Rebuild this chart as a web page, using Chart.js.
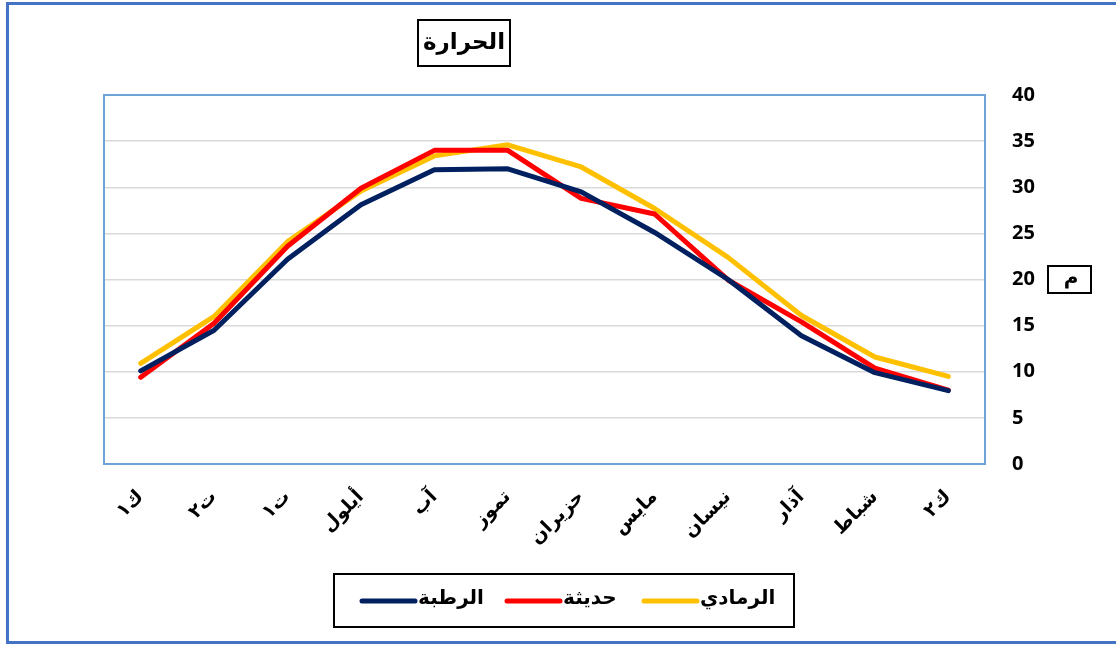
<!DOCTYPE html>
<html>
<head>
<meta charset="utf-8">
<script src="https://cdn.jsdelivr.net/npm/chart.js@4.4.1/dist/chart.umd.min.js"></script>
<style>
  html, body { margin: 0; padding: 0; background: #fff; }
  #wrap { width: 1116px; height: 646px; position: relative; }
</style>
</head>
<body>
<div id="wrap"><canvas id="myChart" width="1116" height="646"></canvas></div>
<script>
// months, shown right-to-left as in the original
var months = ['ك١', 'ت٢', 'ت١', 'أيلول', 'آب', 'تموز', 'حزيران', 'مايس', 'نيسان', 'آذار', 'شباط', 'ك٢'];
var rutba  = [10.1, 14.5, 22.2, 28.1, 31.9, 32.0, 29.5, 25.1, 20.0, 13.9, 9.9, 7.95];
var haditha = [9.4, 15.25, 23.6, 29.9, 34.0, 34.0, 28.8, 27.1, 19.95, 15.4, 10.4, 8.0];
var ramadi = [10.9, 16.0, 24.1, 29.6, 33.4, 34.6, 32.2, 27.7, 22.4, 16.1, 11.6, 9.5];
var yTicks = [0, 5, 10, 15, 20, 25, 30, 35, 40];
var chartTitle = 'الحرارة';
var unitLabel = 'م';

const ctx = document.getElementById('myChart');

// boxes, title, legend and outer frame drawn around the chart
var decor = {
    id: 'decor',
    beforeDraw: function(chart) {
        var c = chart.ctx;
        c.save();
        c.fillStyle = '#fff';
        c.fillRect(0, 0, chart.width, chart.height);
        c.restore();
    },
    afterDraw: function(chart) {
        var c = chart.ctx;
        var a = chart.chartArea;
        c.save();
        // plot border
        c.strokeStyle = '#6fa3d8';
        c.lineWidth = 2;
        c.strokeRect(a.left, a.top, a.right - a.left, a.bottom - a.top);

        // outer frame
        c.strokeStyle = '#4472c4';
        c.lineWidth = 3;
        c.beginPath();
        c.moveTo(1120, 3.5);
        c.lineTo(7.5, 3.5);
        c.lineTo(7.5, 642.5);
        c.lineTo(1120, 642.5);
        c.stroke();

        // title box
        c.strokeStyle = '#000';
        c.lineWidth = 2;
        c.strokeRect(418, 20, 92, 46);
        c.fillStyle = '#000';
        c.font = 'bold 23px "DejaVu Sans"';
        c.textAlign = 'center';
        c.textBaseline = 'middle';
        c.fillText(chartTitle, 464, 43);

        // unit box
        c.strokeRect(1048, 266, 43, 27);
        c.font = 'bold 20px "DejaVu Sans"';
        c.fillText(unitLabel, 1071, 279);

        // legend
        c.strokeRect(334, 574, 460, 53);
        var ds = chart.data.datasets;
        var xs = [360, 505, 642];
        c.textAlign = 'left';
        c.font = 'bold 20px "DejaVu Sans"';
        for (var i = 0; i < ds.length; i++) {
            c.strokeStyle = ds[i].borderColor;
            c.lineWidth = 5;
            c.lineCap = 'round';
            c.beginPath();
            c.moveTo(xs[i] + 2, 601);
            c.lineTo(xs[i] + 55, 601);
            c.stroke();
            c.fillText(ds[i].label, xs[i] + 58, 599);
        }
        c.restore();
    }
};

var graphData = {
    type: 'line',
    data: {
        labels: months,
        datasets: [{
            label: 'الرطبة',
            data: rutba,
            borderColor: '#002060',
            backgroundColor: '#002060'
        }, {
            label: 'حديثة',
            data: haditha,
            borderColor: '#ff0000',
            backgroundColor: '#ff0000'
        }, {
            label: 'الرمادي',
            data: ramadi,
            borderColor: '#ffc000',
            backgroundColor: '#ffc000'
        }]
    },
    options: {
        responsive: false,
        animation: false,
        layout: { padding: { top: 95, left: 104, right: 0, bottom: 0 } },
        elements: {
            line: { borderWidth: 5, tension: 0, borderCapStyle: 'round', borderJoinStyle: 'round' },
            point: { radius: 0 }
        },
        plugins: {
            legend: { display: false },
            title: { display: false },
            tooltip: { enabled: false }
        },
        scales: {
            x: {
                offset: true,
                grid: { display: false, drawTicks: false },
                border: { display: false },
                ticks: {
                    minRotation: 45,
                    maxRotation: 45,
                    padding: 22,
                    color: '#000',
                    font: { family: 'DejaVu Sans', size: 19, weight: 'bold' }
                },
                afterFit: function(s) { s.height = 646 - 464; }
            },
            y: {
                position: 'right',
                min: 0,
                max: 40,
                afterBuildTicks: function(s) {
                    s.ticks = yTicks.map(function(v) { return { value: v }; });
                },
                grid: { color: '#d9d9d9', lineWidth: 1.5, drawTicks: false },
                border: { display: false },
                ticks: {
                    padding: 27,
                    color: '#000',
                    font: { family: 'Open Sans', size: 20, weight: 'bold' }
                },
                afterFit: function(s) { s.width = 1116 - 985; }
            }
        }
    },
    plugins: [decor]
};
var myChart = new Chart(ctx, graphData);
</script>
</body>
</html>
